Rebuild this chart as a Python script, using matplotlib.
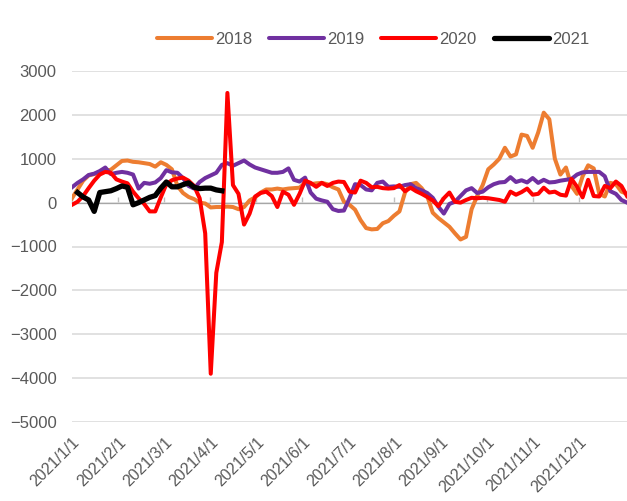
import matplotlib
matplotlib.use("Agg")
import matplotlib.pyplot as plt
import numpy as np

nan = np.nan

years = ['2018', '2019', '2020', '2021']
colors = ['#ED7D31', '#7030A0', '#FF0000', '#000000']

month_labels = ['2021/%d/1' % m for m in range(1, 13)]

s2018 = [100, 300, 500, 620, 650, 700, 720, 750, 850, 950,
         960, 930, 920, 900, 880, 820, 920, 860, 760, 380,
         220, 130, 80, 0, -20, -110, -100, -100, -90, -100,
         -150, -100, 50, 120, 230, 300, 300, 320, 300, 320,
         330, 340, 450, 420, 440, 450, 420, 350, 300, 20,
         -50, -160, -400, -580, -610, -600, -470, -420, -300, -200,
         230, 420, 450, 330, 150, -230, -350, -450, -550, -700,
         -840, -780, -150, 150, 400, 760, 870, 1000, 1250, 1050,
         1100, 1550, 1520, 1250, 1600, 2050, 1900, 1000, 640, 800,
         380, 200, 600, 850, 780, 200, 140, 450, 420, 250,
         200]

s2019 = [350, 450, 530, 630, 660, 720, 800, 650, 680, 700,
         680, 640, 320, 450, 430, 460, 560, 740, 690, 680,
         560, 380, 320, 470, 560, 620, 680, 860, 900, 840,
         900, 960, 870, 800, 760, 720, 680, 680, 700, 780,
         520, 480, 570, 230, 90, 50, 20, -150, -190, -180,
         100, 420, 400, 300, 280, 450, 480, 360, 370, 360,
         400, 420, 330, 280, 220, 110, -90, -250, -30, 20,
         150, 280, 330, 220, 250, 350, 420, 460, 470, 580,
         470, 510, 460, 560, 450, 520, 460, 470, 500, 520,
         540, 640, 690, 700, 700, 700, 600, 260, 200, 60,
         0]

s2020 = [-50, 20, 150, 330, 500, 640, 700, 680, 530, 480,
         440, 250, 100, -30, -200, -200, 120, 420, 510, 550,
         570, 500, 380, 100, -700, -3900, -1600, -900, 2500, 400,
         200, -500, -250, 140, 220, 250, 150, -100, 250, 180,
         -50, 200, 500, 450, 360, 450, 380, 450, 480, 470,
         250, 230, 500, 450, 350, 360, 330, 320, 330, 400,
         260, 340, 260, 200, 130, 50, -80, 100, 230, 20,
         0, 60, 110, 100, 110, 100, 80, 60, 20, 250,
         180, 240, 320, 180, 200, 340, 230, 250, 180, 160,
         540, 360, 120, 520, 150, 140, 380, 330, 480, 380,
         150]

s2021 = [nan, 230, 130, 60, -200, 230, 250, 270, 320, 380,
         350, -50, 0, 60, 120, 160, 330, 470, 360, 360,
         410, 450, 350, 320, 330, 330, 290, 270]

series = [s2018, s2019, s2020, s2021]
widths = [2.9, 2.9, 2.9, 3.8]

plt.rcParams['font.family'] = ['Liberation Sans', 'DejaVu Sans']

fig = plt.figure(figsize=(6.27, 5.01), dpi=100)
ax = fig.add_axes([72 / 627, 79 / 501, 555 / 627, 351 / 501])

for name, vals, c, lw in zip(years, series, colors, widths):
    x = np.arange(len(vals))
    ax.plot(x, vals, color=c, lw=lw, label=name, solid_joinstyle='round', zorder=3)

ax.set_xlim(0, 100)
ax.set_ylim(-5000, 3000)
ax.set_yticks(range(-5000, 3001, 1000))
ax.yaxis.grid(True, color='#D9D9D9', lw=1.1)
ax.set_axisbelow(True)
for sp in ax.spines.values():
    sp.set_visible(False)
ax.tick_params(axis='y', length=0, pad=11, labelsize=12, labelcolor='#595959')

tick_pos = np.arange(12) * 8.3
ax.set_xticks(tick_pos)
ax.set_xticklabels(month_labels, rotation=45, ha='right', rotation_mode='anchor')
ax.tick_params(axis='x', length=0, pad=9, labelsize=11.5, labelcolor='#595959')

# small tick marks on the zero line
sec = ax.secondary_xaxis(0.625)
sec.set_xticks(tick_pos)
sec.set_xticklabels([])
sec.tick_params(axis='x', length=4, width=1, color='#BFBFBF')
sec.spines['bottom'].set_visible(False)

leg = fig.legend(loc='center', bbox_to_anchor=(373 / 627, 1 - 39 / 501), ncol=4,
                 frameon=False, fontsize=12, handlelength=3.3, handletextpad=0.2,
                 columnspacing=1.0, labelcolor='#595959')
for h in leg.get_lines():
    h.set_solid_capstyle('round')

fig.savefig('out.png', dpi=100)
